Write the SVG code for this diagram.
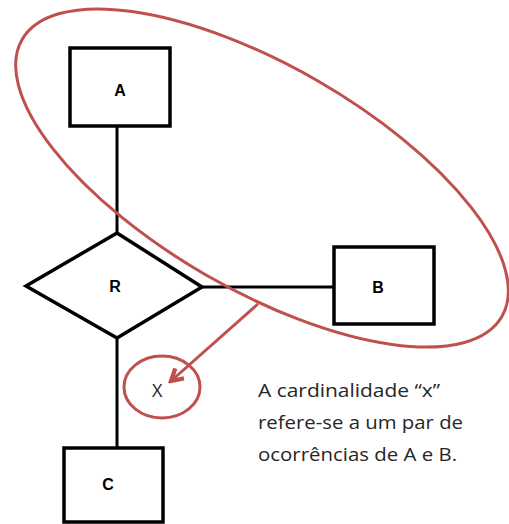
<svg xmlns="http://www.w3.org/2000/svg" width="509" height="524" viewBox="0 0 509 524">
  <style>
    .ent { fill: #fff; stroke: #000; stroke-width: 3.5; }
    .lnk { fill: none; stroke: #000; stroke-width: 3; }
    .lbl { font-family: "Liberation Sans", Arial, sans-serif; font-weight: bold; font-size: 16px; text-anchor: middle; fill: #000; }
    .note { font-family: "Open Sans", "Liberation Sans", sans-serif; font-size: 18px; fill: #262626; }
    .mark { fill: none; stroke: #c0504d; stroke-width: 3; }
  </style>
  <defs>
    <marker id="head" viewBox="0 0 10 10" refX="8" refY="5" markerWidth="5.5" markerHeight="5.5" orient="auto" markerUnits="strokeWidth">
      <path d="M1,1 L8,5 L1,9" fill="none" stroke="#c0504d" stroke-width="2.6" stroke-linejoin="miter"/>
    </marker>
  </defs>
  <rect width="509" height="524" fill="#fff"/>

  <g id="connectors">
    <line class="lnk" x1="117" y1="126" x2="117" y2="233"/>
    <line class="lnk" x1="202" y1="287" x2="334" y2="287"/>
    <line class="lnk" x1="117" y1="338" x2="117" y2="448"/>
  </g>

  <g id="A">
    <rect class="ent" x="70" y="48" width="100" height="78"/>
    <text class="lbl" x="120" y="96">A</text>
  </g>
  <g id="R">
    <polygon class="ent" points="117,233 202,287 117,338 26,286" stroke-linejoin="miter"/>
    <text class="lbl" x="115" y="292">R</text>
  </g>
  <g id="B">
    <rect class="ent" x="334" y="247" width="100" height="77"/>
    <text class="lbl" x="378" y="293">B</text>
  </g>
  <g id="C">
    <rect class="ent" x="64" y="448" width="99" height="74"/>
    <text class="lbl" x="108" y="490">C</text>
  </g>

  <g id="highlight">
    <ellipse class="mark" cx="262" cy="178" rx="277" ry="112" transform="rotate(30 262 178)"/>
    <ellipse class="mark" cx="162" cy="387" rx="38" ry="31"/>
    <line class="mark" x1="258" y1="304" x2="171" y2="381" marker-end="url(#head)"/>
  </g>

  <g id="cardinality">
    <text class="note" x="152" y="397" font-size="20">X</text>
  </g>

  <g id="note">
    <text class="note" x="258" y="397" textLength="182" lengthAdjust="spacingAndGlyphs">A cardinalidade “x”</text>
    <text class="note" x="258" y="429" textLength="205" lengthAdjust="spacingAndGlyphs">refere-se a um par de</text>
    <text class="note" x="258" y="461" textLength="199" lengthAdjust="spacingAndGlyphs">ocorrências de A e B.</text>
  </g>
</svg>
